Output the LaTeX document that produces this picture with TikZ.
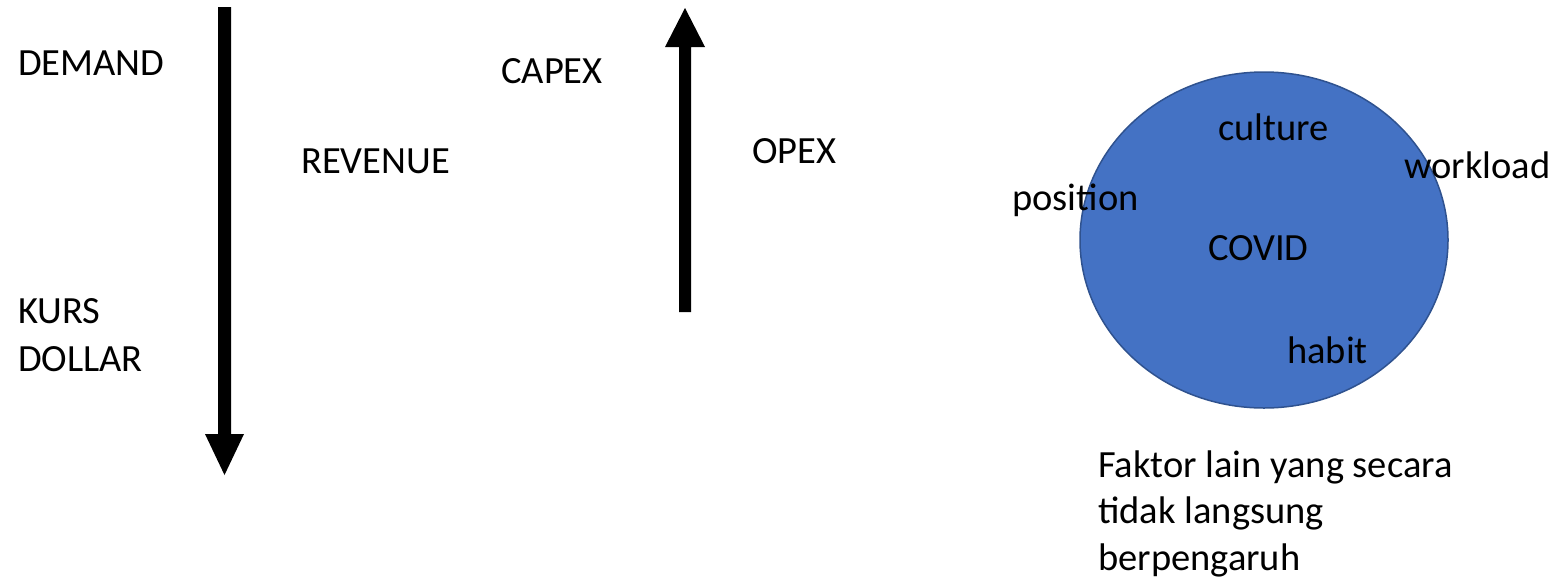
\documentclass[tikz,border=0pt]{standalone}
\usepackage{fontspec}
\setmainfont{Carlito}
\definecolor{discfill}{HTML}{4472C4}
\definecolor{discline}{HTML}{2F528F}
\begin{document}
\begin{tikzpicture}[x=1pt,y=-1pt,
  lbl/.style={inner sep=0pt,anchor=base west,font=\fontsize{38.5}{48}\selectfont},
  multi/.style={lbl,align=left},
  blockarrow/.style={fill=black}]
\useasboundingbox (0,0) rectangle (1557,579);

% factors on the left (multi-line nodes sit on their last baseline)
\node[lbl] (demand) at (18,75) {DEMAND};
\node[multi] (kurs) at (18,371) {KURS\\DOLLAR};
\node[lbl] (revenue) at (301,173) {REVENUE};
\node[lbl] (capex) at (501,83) {CAPEX};
\node[lbl] (opex) at (752,163) {OPEX};

% downward block arrow
\fill[blockarrow] (218,7) -- (231,7) -- (231,434) -- (244,434) -- (224.5,475)
  -- (205,434) -- (218,434) -- cycle;
% upward block arrow
\fill[blockarrow] (679,312) -- (691,312) -- (691,47) -- (705,47) -- (685,8)
  -- (665,47) -- (679,47) -- cycle;

% COVID disc
\filldraw[fill=discfill,draw=discline,line width=1.5pt] (1264,240) ellipse [x radius=184, y radius=168];
\node[lbl] (culture) at (1218,140) {culture};
\node[lbl] (workload) at (1404,178) {workload};
\node[lbl] (position) at (1012,210) {position};
\node[lbl] (covid) at (1208,260) {COVID};
\node[lbl] (habit) at (1287,363) {habit};

\node[multi,font=\fontsize{38.5}{46.5}\selectfont] (note) at (1098,570)
  {Faktor lain yang secara\\tidak langsung\\berpengaruh};
\end{tikzpicture}
\end{document}
